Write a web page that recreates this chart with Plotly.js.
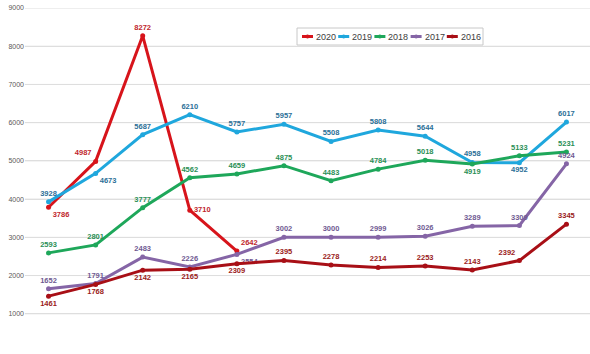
<!DOCTYPE html>
<html><head><meta charset="utf-8">
<script src="https://cdn.plot.ly/plotly-3.0.1.min.js"></script>
<style>html,body{margin:0;padding:0;background:#fff}#chart{width:590px;height:354px}</style>
</head><body><div id="chart"></div>
<script>
const categories = [1,2,3,4,5,6,7,8,9,10,11,12];
const seriesNames = ["2020","2019","2018","2017","2016"];
const v2020 = [3786, 4987, 8272, 3710, 2642];
const v2019 = [3928, 4673, 5687, 6210, 5757, 5957, 5508, 5808, 5644, 4958, 4952, 6017];
const v2018 = [2593, 2801, 3777, 4562, 4659, 4875, 4483, 4784, 5018, 4919, 5133, 5231];
const v2017 = [1652, 1791, 2483, 2226, 2554, 3002, 3000, 2999, 3026, 3289, 3309, 4924];
const v2016 = [1461, 1768, 2142, 2165, 2309, 2395, 2278, 2214, 2253, 2143, 2392, 3345];
const yTicks = [0,1000,2000,3000,4000,5000,6000,7000,8000,9000];

const colors = ["#d7141b","#1fa7dd","#1ea75a","#8565a6","#a80f16"];
const labelColors = ["#c0262c","#2b6f97","#2a8f55","#6f5a92","#9a1b20"];
const pos = [
  ["bottom right","top left","top center","middle right","top right"],
  ["top center","bottom right","top center","top center","top center","top center","top center","top center","top center","top center","bottom center","top center"],
  ["top center","top center","top center","top center","top center","top center","top center","top center","top center","bottom center","top center","top center"],
  ["top center","top center","top center","top center","bottom right","top center","top center","top center","top center","top center","top center","top center"],
  ["bottom center","bottom center","bottom center","bottom center","bottom center","top center","top center","top center","top center","top center","top left","top center"]
];
const vals = [v2020, v2019, v2018, v2017, v2016];
const traces = vals.map((v,i)=>({
  type:"scatter", mode:"lines+markers+text",
  name: seriesNames[i],
  x: categories.slice(0, v.length), y: v,
  text: v.map(String), textposition: pos[i],
  textfont:{family:"Liberation Sans, Arial", size:7.5, color:labelColors[i], weight:"bold"},
  line:{color:colors[i], width:3},
  marker:{color:colors[i], size:5},
  cliponaxis:false, showlegend:false
}));

// horizontal gridlines at the y tick values
const shapes = yTicks.slice(1).map(t=>({type:"line", xref:"paper", yref:"y", x0:0, x1:1, y0:t, y1:t,
  line:{color:"#dedede", width:1}, layer:"below"}));

// custom compact legend (Excel style), built from seriesNames/colors
const L = 25, W = 565, B = 352, H = 344;
const px = p => (p - L) / W, py = p => (B - p) / H;
shapes.push({type:"rect", xref:"paper", yref:"paper", x0:px(297), x1:px(483), y0:py(45), y1:py(28),
  line:{color:"#c8c8c8", width:1}, fillcolor:"#fff", layer:"above"});
const annotations = [];
seriesNames.forEach((n,i)=>{
  const sx = 302 + i*36.2;
  shapes.push({type:"line", xref:"paper", yref:"paper", x0:px(sx), x1:px(sx+11), y0:py(36.5), y1:py(36.5),
    line:{color:colors[i], width:3}, layer:"above"});
  shapes.push({type:"circle", xref:"paper", yref:"paper", x0:px(sx+3.5), x1:px(sx+7.5), y0:py(34.5), y1:py(38.5),
    line:{width:0}, fillcolor:colors[i], layer:"above"});
  annotations.push({xref:"paper", yref:"paper", x:px(sx+12), y:py(36.5), xanchor:"left", yanchor:"middle",
    text:n, showarrow:false, font:{family:"Liberation Sans, Arial", size:9, color:"#404040"}});
});

Plotly.newPlot("chart", traces, {
  width:590, height:354,
  margin:{l:25, r:0, t:8, b:2},
  paper_bgcolor:"#fff", plot_bgcolor:"#fff",
  showlegend:false,
  shapes, annotations,
  xaxis:{range:[0.5,12.5], showticklabels:false, showgrid:false, zeroline:false, showline:false, ticks:""},
  yaxis:{range:[0,9000], tickmode:"array", tickvals:yTicks, ticktext:yTicks.map(String), showgrid:true,
    gridcolor:"#dedede", gridwidth:1, zeroline:false, showline:false,
    tickfont:{family:"Liberation Sans, Arial", size:7, color:"#595959"}, ticks:""},
  font:{family:"Liberation Sans, Arial"}
}, {displayModeBar:false});
</script></body></html>
